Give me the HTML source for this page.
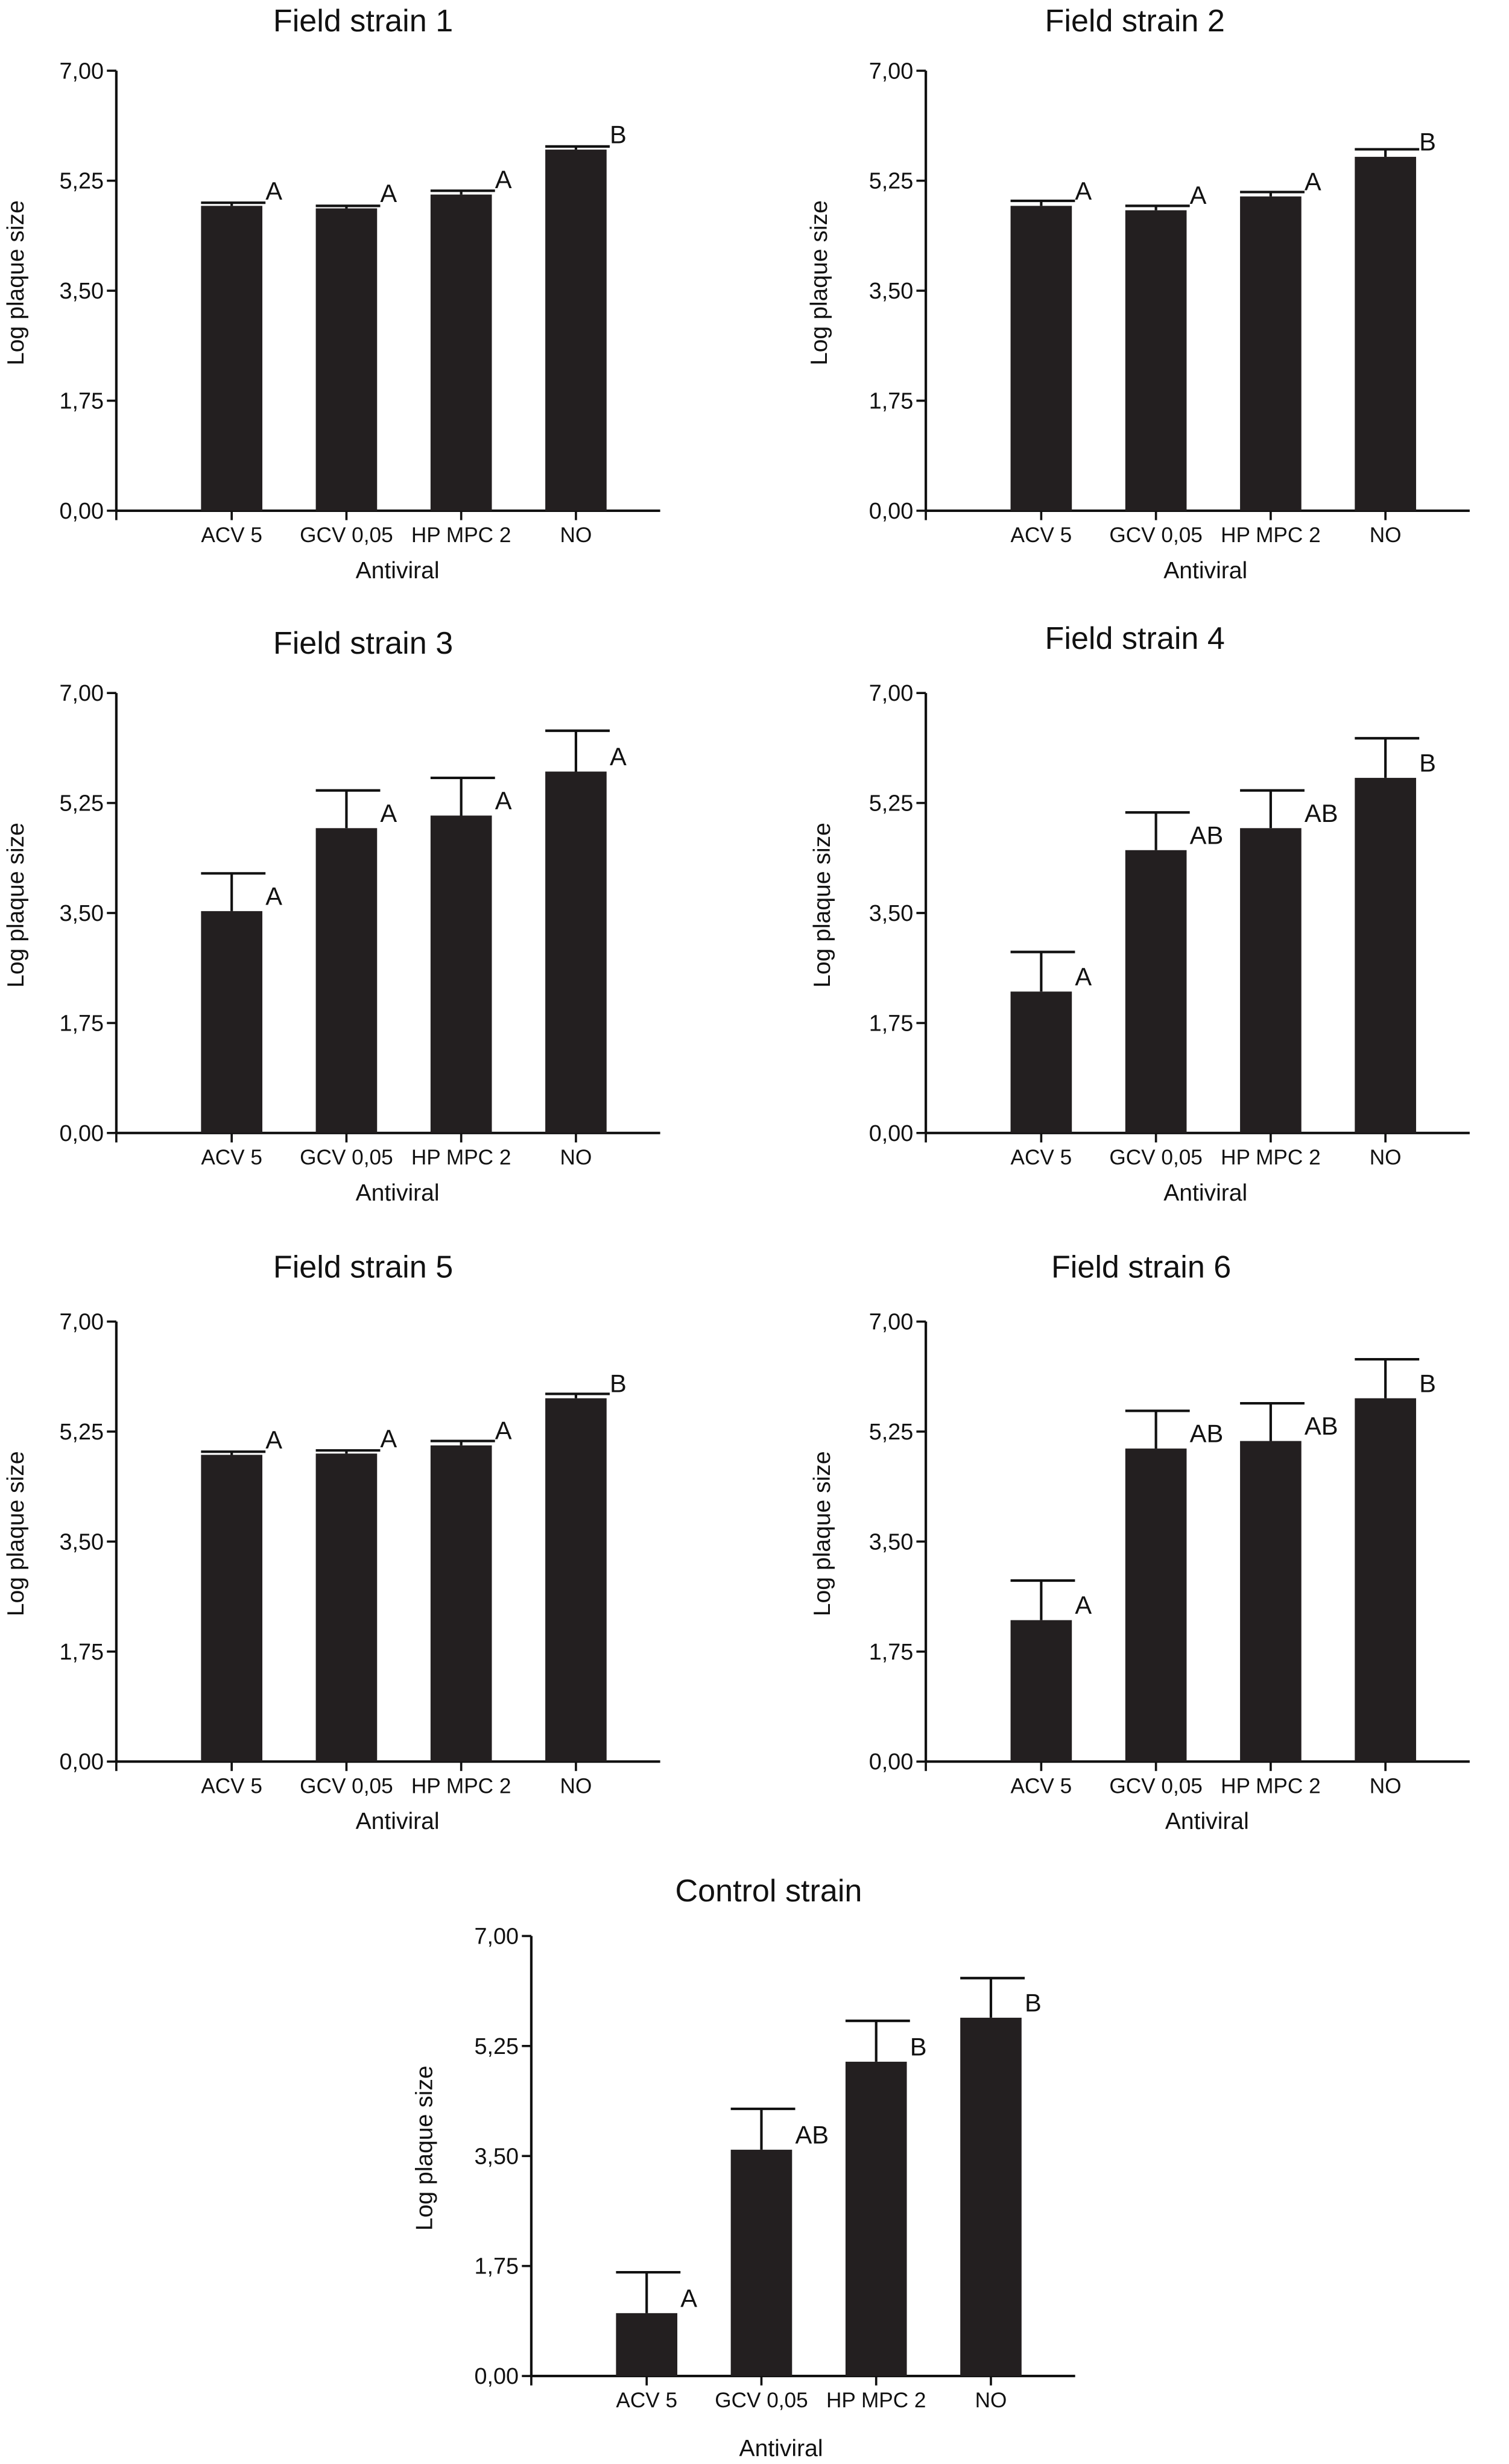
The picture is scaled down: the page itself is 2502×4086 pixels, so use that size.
<!DOCTYPE html>
<html><head><meta charset="utf-8"><style>
html,body{margin:0;padding:0;background:#fff;}
svg{display:block;font-family:"Liberation Sans",Arial,sans-serif;}
</style></head><body>
<svg id="chart" width="2502" height="4086" viewBox="0 0 960 1568" preserveAspectRatio="none" xmlns="http://www.w3.org/2000/svg"></svg>
<script>
const categories = ["ACV 5","GCV 0,05","HP MPC 2","NO"];
const yTicks = [0,1.75,3.5,5.25,7];
const yTickLabels = ["0,00","1,75","3,50","5,25","7,00"];
const panelTitles = ["Field strain 1","Field strain 2","Field strain 3","Field strain 4","Field strain 5","Field strain 6","Control strain"];
const means1 = [4.85,4.81,5.03,5.745]; const errs1 = [0.05,0.04,0.06,0.05]; const letters1 = ["A","A","A","B"];
const means2 = [4.85,4.78,5.0,5.63]; const errs2 = [0.08,0.07,0.07,0.12]; const letters2 = ["A","A","A","B"];
const means3 = [3.53,4.85,5.05,5.75]; const errs3 = [0.6,0.6,0.6,0.65]; const letters3 = ["A","A","A","A"];
const means4 = [2.25,4.5,4.85,5.65]; const errs4 = [0.63,0.6,0.6,0.63]; const letters4 = ["A","AB","AB","B"];
const means5 = [4.88,4.9,5.03,5.78]; const errs5 = [0.05,0.05,0.07,0.07]; const letters5 = ["A","A","A","B"];
const means6 = [2.25,4.98,5.1,5.78]; const errs6 = [0.63,0.6,0.6,0.62]; const letters6 = ["A","AB","AB","B"];
const means7 = [1.0,3.6,5.0,5.7]; const errs7 = [0.65,0.65,0.65,0.63]; const letters7 = ["A","AB","B","B"];
const allMeans=[means1,means2,means3,means4,means5,means6,means7];
const allErrs=[errs1,errs2,errs3,errs4,errs5,errs6,errs7];
const allLetters=[letters1,letters2,letters3,letters4,letters5,letters6,letters7];
// layout: axis origin x, axis top y, title y, ylabel x, xlabel offset, title x offset, xlabel x shift
const layout=[[74,45,20,10,43,157,-4],[589,45,20,521,43,133,-5],[74,441,416,10,43,157,-4],[589,441,413,523,43,133,-5],[74,841,813,10,43,157,-4],[589,841,813,523,43,137,-4],[338,1232,1210,270,51,151,-24]];
const NS="http://www.w3.org/2000/svg";
const svg=document.getElementById('chart');
function mk(tag,attrs,parent,text){const e=document.createElementNS(NS,tag);for(const k in attrs)e.setAttribute(k,attrs[k]);if(text!==undefined)e.textContent=text;parent.appendChild(e);return e;}
const H=280,BAND=73,BW=39;
layout.forEach((L,p)=>{
  const [ax,top,ty,ylx,xlo,tx,xls]=L; const bot=top+H;
  const yS=v=>bot-v/7*H; const xC=i=>ax+73.4+i*BAND;
  const g=mk('g',{},svg);
  
  
  const t=mk('text',{x:ax+tx,y:ty,'font-size':20,'text-anchor':'middle',fill:'#111'},g,panelTitles[p]);
  
  
  const ya=mk('line',{x1:ax,y1:top,x2:ax,y2:bot,stroke:'#111','stroke-width':1.6},g);
  
  
  const xa=mk('line',{x1:ax,y1:bot,x2:ax+346,y2:bot,stroke:'#111','stroke-width':1.6},g);
  
  
  mk('line',{x1:ax,y1:bot,x2:ax,y2:bot+6,stroke:'#111','stroke-width':1.4},g);
  yTicks.forEach((v,i)=>{
    mk('line',{x1:ax-6,y1:yS(v),x2:ax,y2:yS(v),stroke:'#111','stroke-width':1.4},g);
    const tl=mk('text',{x:ax-8,y:yS(v)+5,'font-size':14.5,'text-anchor':'end',fill:'#111'},g,yTickLabels[i]);
    
    
  });
  const yl=mk('text',{x:0,y:0,'font-size':15,'text-anchor':'middle',fill:'#111',transform:`translate(${ylx+5},${top+H/2-5}) rotate(-90)`},g,'Log plaque size');
  
  
  const xl=mk('text',{x:xC(1.5)+xls,y:bot+xlo,'font-size':15,'text-anchor':'middle',fill:'#111'},g,'Antiviral');
  
  
  categories.forEach((c,i)=>{
    const m=allMeans[p][i], e=allErrs[p][i];
    const x0=xC(i)-BW/2;
    mk('line',{x1:xC(i),y1:bot,x2:xC(i),y2:bot+6,stroke:'#111','stroke-width':1.4},g);
    const cl=mk('text',{x:xC(i),y:bot+20,'font-size':13.5,'text-anchor':'middle',fill:'#111'},g,c);
    
    
    const b=mk('rect',{x:x0,y:yS(m),width:BW,height:bot-yS(m),fill:'#231f20'},g);
    
    
    mk('line',{x1:xC(i),y1:yS(m),x2:xC(i),y2:yS(m+e),stroke:'#111','stroke-width':1.6},g);
    const cap=mk('line',{x1:x0,y1:yS(m+e),x2:x0+BW+2,y2:yS(m+e),stroke:'#111','stroke-width':1.6},g);
    
    
    const lt=mk('text',{x:x0+BW+2,y:yS(m)-4,'font-size':16,fill:'#111'},g,allLetters[p][i]);
    
    
  });
});
</script>
</body></html>
